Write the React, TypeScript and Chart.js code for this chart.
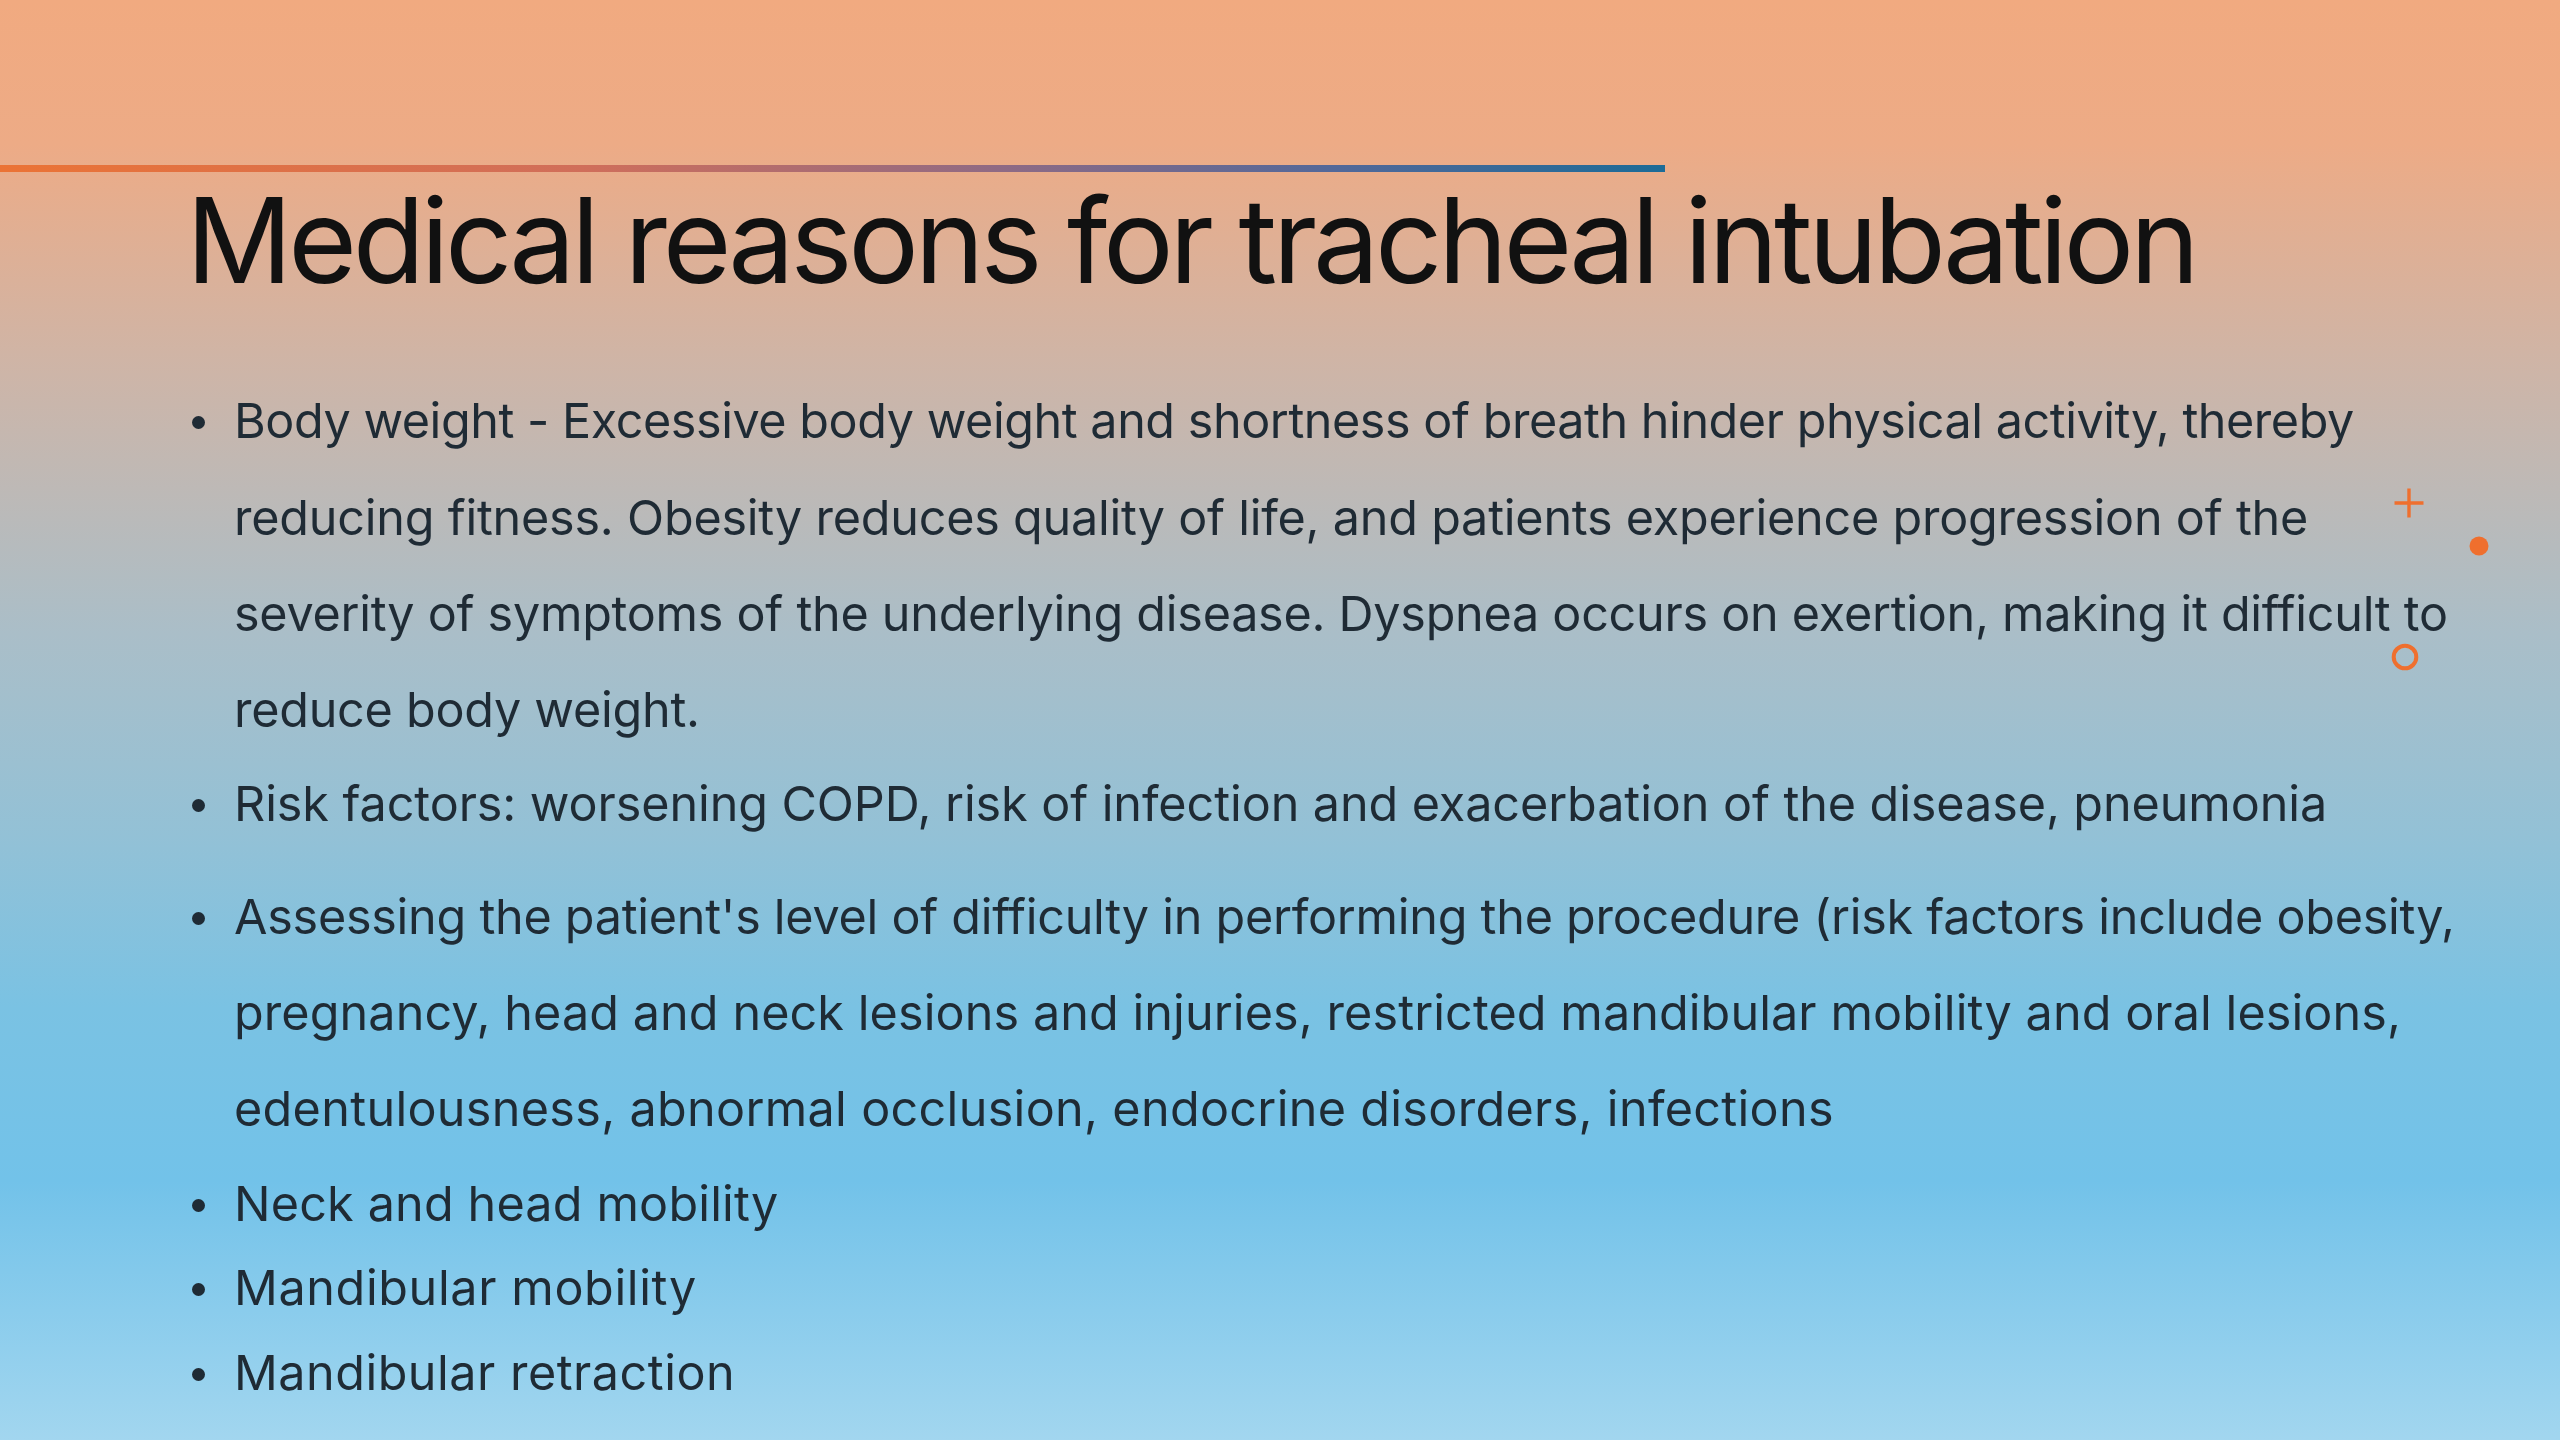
import React, { useEffect, useRef, useMemo } from "react";
import { Chart, registerables } from "chart.js";

Chart.register(...registerables);

const W = 2560;
const H = 1440;

// ---------------- data ----------------
const titleText = "Medical reasons for tracheal intubation";

const bullet1 = [
  "Body weight - Excessive body weight and shortness of breath hinder physical activity, thereby",
  "reducing fitness. Obesity reduces quality of life, and patients experience progression of the",
  "severity of symptoms of the underlying disease. Dyspnea occurs on exertion, making it difficult to",
  "reduce body weight.",
];
const bullet2 = ["Risk factors: worsening COPD, risk of infection and exacerbation of the disease, pneumonia"];
const bullet3 = [
  "Assessing the patient's level of difficulty in performing the procedure (risk factors include obesity,",
  "pregnancy, head and neck lesions and injuries, restricted mandibular mobility and oral lesions,",
  "edentulousness, abnormal occlusion, endocrine disorders, infections",
];
const bullet4 = ["Neck and head mobility"];
const bullet5 = ["Mandibular mobility"];
const bullet6 = ["Mandibular retraction"];
const bulletItems = [bullet1, bullet2, bullet3, bullet4, bullet5, bullet6];

// accent rule under the header band (slide units = px of a 2560x1440 slide)
const accentLineX = [0, 1665];
const accentLineY = [168.5, 168.5];

// decorative markers at the right edge
const markerX = [2409, 2479, 2405];
const markerY = [503, 546, 657];
const markerKinds = ["cross", "dot", "ring"];

// ---------------- layout ----------------
const ORANGE = "#EF6F2E";
const TITLE = {
  family: "Inter",
  size: 118,
  weight: 400,
  inkLeft: 196,
  inkRight: 2191,
  baseline: 283,
  color: "#111111",
};
const BODY = {
  family: "Inter",
  size: 48.5,
  weight: 400,
  inkLeft: 238,
  color: "#1F2B35",
  bulletX: 198,
  bulletRise: 16,
  bulletD: 13,
};
const lineBaselines = [[438, 535, 631, 727], [821], [934, 1030, 1126], [1221], [1305], [1390]];
const lineInkRights = [[2353, 2306, 2446, 697], [2324], [2451, 2397, 1832], [777], [695], [731]];

let measureCtx: CanvasRenderingContext2D | null = null;
function measure(text: string, font: string) {
  if (!measureCtx) measureCtx = document.createElement("canvas").getContext("2d");
  const c = measureCtx!;
  c.font = font;
  const m = c.measureText(text);
  return {
    left: m.actualBoundingBoxLeft,
    right: m.actualBoundingBoxRight,
    asc: m.fontBoundingBoxAscent,
    desc: m.fontBoundingBoxDescent,
  };
}

function TextLine(props: {
  text: string;
  font: string;
  x: number;
  baseline: number;
  spacing: number;
  asc: number;
  desc: number;
  color: string;
}) {
  return (
    <div
      style={{
        position: "absolute",
        left: props.x,
        top: props.baseline - props.asc,
        font: props.font,
        lineHeight: `${props.asc + props.desc}px`,
        letterSpacing: `${props.spacing}px`,
        whiteSpace: "nowrap",
        color: props.color,
        margin: 0,
        padding: 0,
      }}
    >
      {props.text}
    </div>
  );
}

function Slide() {
  const canvasRef = useRef<HTMLCanvasElement>(null);

  useEffect(() => {
    const canvas = canvasRef.current;
    if (!canvas) return;
    const chart = new Chart(canvas, {
      type: "scatter",
      data: {
        datasets: [
          {
            type: "line",
            label: "accent",
            data: accentLineX.map((x, i) => ({ x, y: accentLineY[i] })),
            borderColor: (ctx: any) => {
              const ch = ctx.chart;
              const xs = ch.scales && ch.scales.x;
              if (!ch.chartArea || !xs) return ORANGE;
              const g = ch.ctx.createLinearGradient(
                xs.getPixelForValue(accentLineX[0]),
                0,
                xs.getPixelForValue(accentLineX[1]),
                0
              );
              g.addColorStop(0, "#EB7335");
              g.addColorStop(0.35, "#D06E5A");
              g.addColorStop(0.6, "#8F6A84");
              g.addColorStop(0.8, "#536899");
              g.addColorStop(1, "#1C6B97");
              return g;
            },
            borderWidth: 7,
            borderCapStyle: "butt",
            pointRadius: 0,
            fill: false,
            tension: 0,
            clip: false,
          } as any,
          {
            type: "scatter",
            label: "markers",
            data: markerX.map((x, i) => ({ x, y: markerY[i] })),
            pointStyle: markerKinds.map((k) => (k === "cross" ? "cross" : "circle")),
            pointRadius: markerKinds.map((k) => (k === "cross" ? 14.5 : k === "dot" ? 9.5 : 11.3)),
            pointBorderWidth: markerKinds.map((k) => (k === "cross" ? 3.4 : k === "dot" ? 0 : 4)),
            pointBackgroundColor: markerKinds.map((k) => (k === "ring" ? "rgba(0,0,0,0)" : ORANGE)),
            pointBorderColor: ORANGE,
            clip: false,
          } as any,
        ],
      },
      options: {
        responsive: false,
        animation: false,
        devicePixelRatio: 1,
        events: [],
        layout: { autoPadding: false, padding: 0 },
        scales: {
          x: { type: "linear", min: 0, max: W, display: false },
          y: { type: "linear", min: 0, max: H, reverse: true, display: false },
        },
        plugins: {
          legend: { display: false },
          tooltip: { enabled: false },
          title: { display: false },
        },
      } as any,
    });
    return () => chart.destroy();
  }, []);

  const titleFont = `${TITLE.weight} ${TITLE.size}px ${TITLE.family}`;
  const bodyFont = `${BODY.weight} ${BODY.size}px ${BODY.family}`;

  const layout = useMemo(() => {
    const t = measure(titleText, titleFont);
    const tx = TITLE.inkLeft + t.left;
    const tSpacing = (TITLE.inkRight - TITLE.inkLeft - (t.left + t.right)) / (titleText.length - 1);
    const first = measure(bulletItems[0][0], bodyFont);
    const bx = BODY.inkLeft + first.left;
    const lines: any[] = [];
    bulletItems.forEach((item, i) => {
      item.forEach((text, j) => {
        const m = measure(text, bodyFont);
        const spacing = (lineInkRights[i][j] - bx - m.right) / (text.length - 1);
        lines.push({ text, baseline: lineBaselines[i][j], spacing, asc: m.asc, desc: m.desc, key: `${i}-${j}` });
      });
    });
    return { t, tx, tSpacing, bx, lines };
  }, []);

  return (
    <div
      style={{
        position: "fixed",
        left: 0,
        top: 0,
        width: W,
        height: H,
        overflow: "hidden",
        background:
          "linear-gradient(180deg, #F1AA80 0%, #EDAB86 10%, #CDB5A8 26%, #AABEC8 44%, #93C1D6 58%, #7AC2E3 70%, #72C2E9 82%, #A2D6EF 100%)",
      }}
    >
      <canvas
        ref={canvasRef}
        width={W}
        height={H}
        style={{ position: "absolute", left: 0, top: 0, width: W, height: H }}
      />
      <TextLine
        text={titleText}
        font={titleFont}
        x={layout.tx}
        baseline={TITLE.baseline}
        spacing={layout.tSpacing}
        asc={layout.t.asc}
        desc={layout.t.desc}
        color={TITLE.color}
      />
      {bulletItems.map((item, i) => (
        <div
          key={`b${i}`}
          style={{
            position: "absolute",
            left: BODY.bulletX - BODY.bulletD / 2,
            top: lineBaselines[i][0] - BODY.bulletRise - BODY.bulletD / 2,
            width: BODY.bulletD,
            height: BODY.bulletD,
            borderRadius: "50%",
            background: BODY.color,
          }}
        />
      ))}
      {layout.lines.map((l: any) => (
        <TextLine
          key={l.key}
          text={l.text}
          font={bodyFont}
          x={layout.bx}
          baseline={l.baseline}
          spacing={l.spacing}
          asc={l.asc}
          desc={l.desc}
          color={BODY.color}
        />
      ))}
    </div>
  );
}

export default function App() {
  return <Slide />;
}
